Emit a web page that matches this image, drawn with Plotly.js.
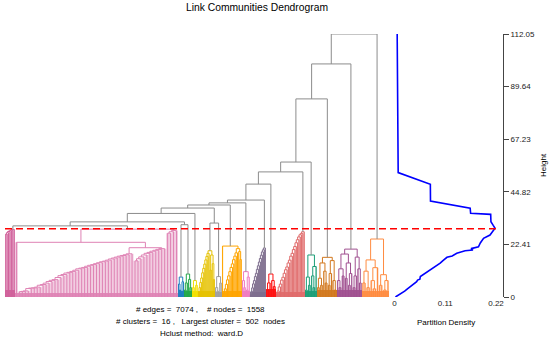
<!DOCTYPE html>
<html><head><meta charset="utf-8">
<script src="https://cdn.plot.ly/plotly-3.0.1.min.js"></script>
<style>html,body{margin:0;padding:0;background:#fff}#chart{width:550px;height:341px}</style>
</head><body><div id="chart"></div>
<script>
// ---------------- data ----------------
const clusterNames = ['C1','C2','C3','C4','C5','C6','C7','C8','C9','C10','C11','C12','C13','C14','C15','C16'];
const clusterColors = ['#d0609a','#df82b4','#2080c0','#22a84a','#f2e000','#e6c200','#a0a0a0','#ffa500','#f07cc0','#7f6f8f','#ff1010','#e06b6b','#1b9e77','#d2781e','#a05090','#ff8c40'];
const clusterSizes = [184, 3003, 110, 147, 110, 313, 129, 368, 147, 295, 184, 534, 221, 368, 461, 500];
const baseFill = [3, 1.8, 2.5, 2.5, 2.5, 2.5, 2, 2.5, 2.5, 2, 3.5, 2, 2.5, 3, 3, 2.5];

// internal merge heights (caterpillar runs)
const pinkLeftStair = [26.8, 27.4, 27.9, 28.2, 28.5, 28.8];
const pinkLowStair = [2.3, 2.4, 2.6, 3.6, 3.8, 3.9, 4.2, 5.0, 5.3, 5.9, 6.6, 7.1, 7.4, 8.3, 9.1, 9.6, 10.2, 10.5, 10.9, 11.4, 12.0, 12.3, 12.6, 13.1, 13.5, 13.8, 14.2, 14.6, 15.0, 15.3, 15.7, 16.2, 16.6, 17.0, 17.4, 17.7, 18.0, 18.4];
const pinkHighStair = [15.4, 16.3, 17.1, 17.9, 18.6, 19.0, 19.5, 19.9, 20.3, 20.6];
const pinkTallStair = [27.2, 27.8, 28.3];
const yellowStair = [2.1, 4.0, 6.2, 8.1, 10.3, 12.2, 14.0, 15.8, 17.3];
const orangeStair = [1.8, 3.5, 5.4, 7.3, 9.0, 10.8, 12.6, 14.1, 15.9, 17.4, 18.8];
const mauveStair = [1.0, 2.4, 3.9, 5.6, 7.0, 8.7, 10.1, 11.8, 13.3, 14.9, 16.4, 17.8, 19.2, 20.1, 20.9];
const salmonStair = [1.2, 2.6, 4.3, 5.5, 7.2, 8.4, 10.1, 11.6, 12.8, 14.5, 15.7, 17.4, 18.6, 20.2, 21.5, 23.1, 24.4, 25.6, 26.5, 27.1, 27.8];

function stair(hs){ let t = 0; for (const h of hs) t = [h, t, 0]; return t; }

// cluster trees: [height, left, right], leaf = 0
const clusterTrees = [
  stair(pinkLeftStair),
  [28.9, [23.3, 0, [21.0, stair(pinkLowStair), stair(pinkHighStair)]], stair(pinkTallStair)],
  [8.5, [5.5, 0, [3.0, 0, 0]], [6.5, [2.5, 0, 0], 0]],
  [9.8, [6.0, [3.0, 0, 0], 0], [7.5, 0, [4.0, 0, 0]]],
  [7.0, [4.0, 0, 0], [5.0, 0, 0]],
  [19.7, [18.6, stair(yellowStair), 0], [17.9, [11.5, 0, 0], [14.2, 0, [7.5, 0, 0]]]],
  [8.7, [4.0, 0, [2.5, 0, 0]], [6.0, 0, 0]],
  [21.7, 0, [20.6, stair(orangeStair), [19.4, 0, [16.0, 0, 0]]]],
  [10.8, [7.0, 0, [4.0, 0, 0]], [8.5, [3.0, 0, 0], 0]],
  stair(mauveStair),
  [9.8, [6.0, [3.0, 0, 0], 0], [7.0, 0, [4.5, 0, 0]]],
  stair(salmonStair),
  [17.9, [8.5, [3.0, 0, 0], [5.0, 0, 0]], [13.0, [9.0, 0, [4.0, 0, 0]], 0]],
  [16.9, [14.5, [8.0, [4.0, 0, 0], [5.0, 0, 0]], [11.0, 0, [6.0, 0, 0]]], [15.5, [10.0, [5.0, 0, 0], 0], [7.0, 0, [3.0, 0, 0]]]],
  [20.4, [18.3, [12.0, [7.0, 0, [4.0, 0, 0]], [9.0, 0, 0]], [14.5, [8.0, 0, 0], [10.0, [5.0, 0, 0], 0]]], [17.0, [9.0, [4.0, 0, 0], 0], [12.0, 0, [6.0, 0, 0]]]],
  [24.7, [15.8, [11.0, [6.0, 0, 0], [4.0, 0, 0]], [12.5, [7.0, 0, [3.5, 0, 0]], 0]], [9.5, [5.0, 0, 0], [7.0, [3.0, 0, 0], 0]]]
];

// merges above the cut (leaves are cluster indices)
const topTree =
 [112.05, [99.3, [84.4, [57.5, [53.3, [48.1, [41.3, [40.1, [39.2, [37.9,
   [35.6, [32.0, [30.3, 0, 1], [30.8, 2, 3]], 4], [31.5, 5, 6]], 7], 8], 9], 10], 11], 12], 13], 14], 15];

const cutHeight = 29.1;

const densityHeights = [0, 1.3, 2.5, 3.5, 4.4, 5.5, 6.5, 7.2, 7.6, 8.7, 10.0, 11.5, 12.5, 13.2, 13.8, 14.4, 15.5, 16.9, 17.5, 18.6, 19.7, 20.0, 20.6, 21.4, 23.0, 25.0, 26.4, 28.0, 29.3, 30.5, 32.1, 35.2, 35.7, 37.8, 40.9, 48.0, 53.0, 112.05];
const densityValues  = [0.002, 0.013, 0.022, 0.028, 0.0345, 0.042, 0.048, 0.050, 0.055, 0.056, 0.066, 0.0777, 0.085, 0.088, 0.094, 0.099, 0.105, 0.1137, 0.125, 0.135, 0.153, 0.170, 0.166, 0.182, 0.186, 0.193, 0.207, 0.214, 0.218, 0.214, 0.209, 0.2085, 0.165, 0.164, 0.078, 0.0777, 0.008, 0.0058];

const heightTicks = [0, 22.41, 44.82, 67.23, 89.64, 112.05];
const densityTicks = [0, 0.11, 0.22];
const nEdges = 7074, nNodes = 1558, nClusters = 16, largestCluster = 502;
const hclustMethod = 'ward.D';

// ---------------- build ----------------
function countLeaves(t){ return Array.isArray(t) ? countLeaves(t[1]) + countLeaves(t[2]) : 1; }
function walk(t, pos, seg, leaves){
  if (!Array.isArray(t)) { const x = pos.x; pos.x += pos.step; return {x: x, h: 0, leaf: true}; }
  const a = walk(t[1], pos, seg, leaves), b = walk(t[2], pos, seg, leaves);
  if (a.leaf) leaves.push([a.x, t[0]]);
  if (b.leaf) leaves.push([b.x, t[0]]);
  seg.x.push(a.x, a.x, b.x, b.x, null); seg.y.push(a.h, t[0], t[0], b.h, null);
  return {x: (a.x + b.x) / 2, h: t[0]};
}
function rgba(hex, a){
  const n = parseInt(hex.slice(1), 16);
  return 'rgba(' + (n >> 16 & 255) + ',' + (n >> 8 & 255) + ',' + (n & 255) + ',' + a + ')';
}
const fills = [], lines = [];
const tops = [];
let start = 0;
const baseX = [];
clusterTrees.forEach((t, i) => {
  const n = countLeaves(t), step = clusterSizes[i] / n;
  const seg = {x: [], y: []}, leaves = [];
  const top = walk(t, {x: start + step / 2, step: step}, seg, leaves);
  tops.push(top);
  baseX.push(start + clusterSizes[i] / 2);
  leaves.sort((p, q) => p[0] - q[0]);
  const fx = [start], fy = [0];
  leaves.forEach(([lx, lh]) => { fx.push(lx - step / 2, lx - step / 2, lx + step / 2, lx + step / 2); fy.push(0, lh, lh, 0); });
  fills.push({type: 'scatter', mode: 'lines', x: fx, y: fy, xaxis: 'x', yaxis: 'y', fill: 'toself',
    fillcolor: rgba(clusterColors[i], 0.4), line: {width: 0}, hoverinfo: 'skip'});
  lines.push({type: 'scatter', mode: 'lines', x: seg.x, y: seg.y, xaxis: 'x', yaxis: 'y',
    line: {color: clusterColors[i], width: 1}, hoverinfo: 'skip', name: clusterNames[i]});
  start += clusterSizes[i];
});
const traces = fills.concat([{type: 'bar', x: baseX, y: baseFill, width: clusterSizes, xaxis: 'x', yaxis: 'y',
  marker: {color: clusterColors, line: {width: 0}}, opacity: 0.9, hoverinfo: 'skip'}], lines);

function walkTop(t, seg){
  if (!Array.isArray(t)) return tops[t];
  const a = walkTop(t[1], seg), b = walkTop(t[2], seg);
  seg.x.push(a.x, a.x, b.x, b.x, null); seg.y.push(a.h, t[0], t[0], b.h, null);
  return {x: (a.x + b.x) / 2, h: t[0]};
}
const topSeg = {x: [], y: []};
walkTop(topTree, topSeg);
traces.push({type: 'scatter', mode: 'lines', x: topSeg.x, y: topSeg.y, xaxis: 'x', yaxis: 'y',
  line: {color: '#8c8c8c', width: 1}, hoverinfo: 'skip'});

traces.push({type: 'scatter', mode: 'lines', x: densityValues, y: densityHeights, xaxis: 'x2', yaxis: 'y',
  line: {color: '#0000ff', width: 1.6}, hoverinfo: 'skip'});

const W = 550, H = 341;
const px = v => v / W, py = v => (H - v) / H;
const nb = '\u00a0';
const font = 'Liberation Sans, Arial, Helvetica, sans-serif';
const txt = (text, x, y, extra) => Object.assign({text: text, xref: 'paper', yref: 'paper', x: px(x), y: py(y),
  xanchor: 'center', yanchor: 'middle', showarrow: false, font: {size: 8, color: '#000', family: font}}, extra || {});

const layout = {
  width: W, height: H, margin: {l: 0, r: 0, t: 0, b: 0},
  paper_bgcolor: '#fff', plot_bgcolor: 'rgba(0,0,0,0)', showlegend: false, bargap: 0,
  font: {family: font, color: '#000', size: 8},
  title: {text: 'Link Communities Dendrogram', x: px(257), xanchor: 'center', xref: 'paper',
    y: py(7.5), yanchor: 'middle', font: {size: 10.3, color: '#000', family: font}},
  xaxis: {domain: [0, px(392)], range: [-92, 7129], visible: false, fixedrange: true},
  xaxis2: {domain: [px(394.5), px(496)], range: [0, 0.22], anchor: 'y', showgrid: false, zeroline: false,
    tickvals: densityTicks, ticktext: densityTicks.map(String), ticks: '', showline: false,
    tickfont: {size: 8, color: '#222', family: font}},
  yaxis: {domain: [py(297), py(34)], range: [0, 112.05], side: 'right', anchor: 'free', position: px(503),
    tickvals: heightTicks, ticktext: heightTicks.map(String), ticks: 'outside', ticklen: 5,
    tickcolor: '#444', showline: true, linecolor: '#444', linewidth: 1, showgrid: false, zeroline: false,
    tickfont: {size: 8, color: '#222', family: font}},
  shapes: [{type: 'line', xref: 'paper', yref: 'y', x0: px(5), x1: px(500), y0: cutHeight, y1: cutHeight,
    line: {color: '#ff0000', width: 1.5, dash: '7px,4px'}}],
  annotations: [
    txt('# edges =' + nb + nb + nEdges + nb + ',' + nb + nb + nb + nb + '# nodes =' + nb + nb + nNodes, 200, 309),
    txt('# clusters =' + nb + nb + nClusters + nb + ',' + nb + nb + nb + 'Largest cluster =' + nb + nb + largestCluster + nb + nb + 'nodes', 200, 321.5),
    txt('Hclust method:' + nb + nb + hclustMethod, 201, 333),
    txt('Partition Density', 446, 322),
    txt('Height', 543, 165, {textangle: -90})
  ]
};
Plotly.newPlot('chart', traces, layout, {staticPlot: true, displayModeBar: false});
</script></body></html>
